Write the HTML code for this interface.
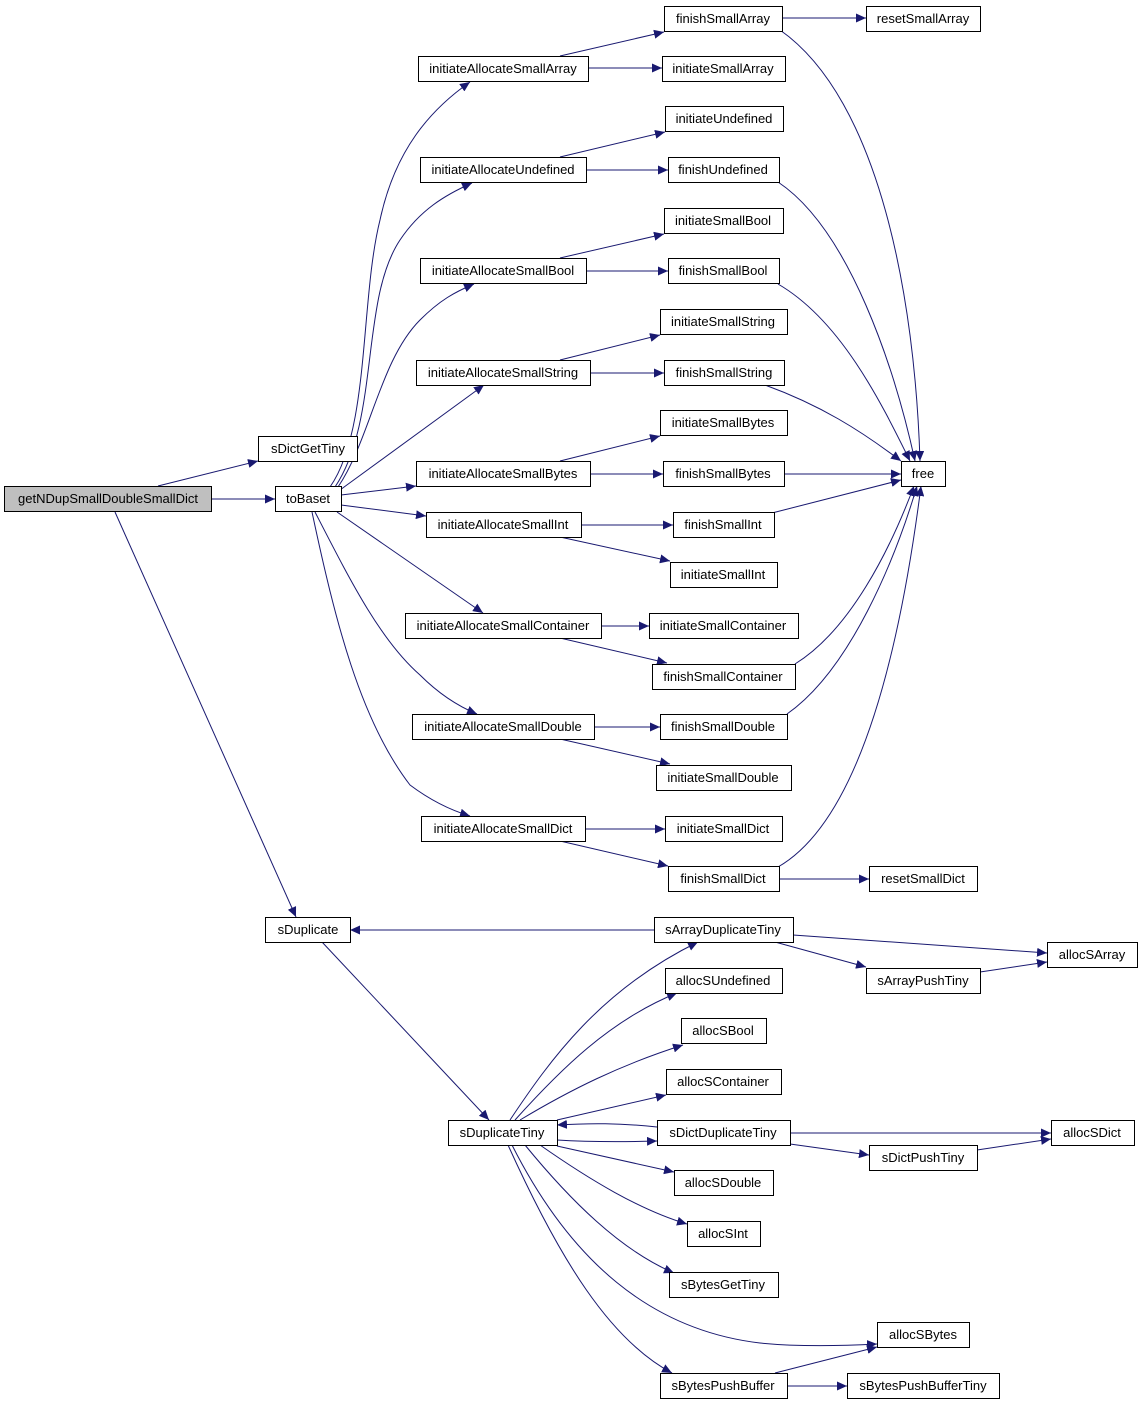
<!DOCTYPE html>
<html><head><meta charset="utf-8"><style>
html,body{margin:0;padding:0;background:#fff;}
svg{display:block;}
text{font-family:"Liberation Sans",Helvetica,sans-serif;font-size:13px;fill:#000;}
</style></head><body>
<svg width="1143" height="1405" viewBox="0 0 1143 1405" xmlns="http://www.w3.org/2000/svg">
<defs><marker id="a" markerUnits="userSpaceOnUse" markerWidth="11" markerHeight="9" refX="10" refY="4.5" orient="auto"><path d="M0,0 L10,4.5 L0,9 z" fill="#191970"/></marker></defs>
<g fill="none" stroke="#191970" stroke-width="1" marker-end="url(#a)">
<path d="M158,486 L258,461"/>
<path d="M211,499 L275,499"/>
<path d="M115,512 L296,917"/>
<path d="M330,487 C370,430 360,300 380,220 C395,150 430,110 470,82"/>
<path d="M335,487 C380,420 360,300 400,240 C420,210 445,195 472,183"/>
<path d="M338,487 C370,440 380,360 420,320 C440,300 455,292 474,284"/>
<path d="M340,490 L484,385"/>
<path d="M341,495 L416,486"/>
<path d="M341,505 L426,516"/>
<path d="M337,512 L483,613"/>
<path d="M315,512 C350,580 380,640 420,675 C440,695 460,707 477,714"/>
<path d="M312,512 C335,620 360,720 410,785 C430,800 450,810 470,816"/>
<path d="M560,56 L664,32"/><path d="M588,68 L662,68"/>
<path d="M560,157 L665,132"/><path d="M586,170 L668,170"/>
<path d="M560,258 L664,234"/><path d="M586,271 L668,271"/>
<path d="M560,360 L660,335"/><path d="M590,373 L664,373"/>
<path d="M560,461 L660,436"/><path d="M590,474 L663,474"/>
<path d="M581,525 L673,525"/><path d="M560,537 L670,561"/>
<path d="M601,626 L649,626"/><path d="M560,638 L667,663"/>
<path d="M594,727 L660,727"/><path d="M560,739 L670,764"/>
<path d="M585,829 L665,829"/><path d="M560,841 L668,866"/>
<path d="M782,18 L866,18"/>
<path d="M780,30 C880,100 915,300 920,461"/>
<path d="M778,182 C850,230 895,370 915,461"/>
<path d="M778,284 C840,320 880,400 910,461"/>
<path d="M765,385 C820,405 860,430 901,461"/>
<path d="M784,474 L901,474"/>
<path d="M772,513 L901,480"/>
<path d="M795,664 C850,630 890,550 914,486"/>
<path d="M787,714 C850,670 895,560 917,486"/>
<path d="M778,867 C860,820 900,650 921,486"/>
<path d="M779,879 L869,879"/>
<path d="M654,930 L350,930"/>
<path d="M793,935 L1047,953"/>
<path d="M775,942 L866,967"/>
<path d="M980,972 L1047,962"/>
<path d="M322,942 L489,1120"/>
<path d="M510,1120 C550,1060 600,990 698,942"/>
<path d="M515,1120 C560,1070 610,1020 677,993"/>
<path d="M520,1120 C570,1090 620,1065 683,1045"/>
<path d="M557,1120 L666,1095"/>
<path d="M557,1140 C590,1142 620,1142 657,1141"/>
<path d="M657,1127 C620,1123 590,1123 557,1125"/>
<path d="M557,1146 L674,1172"/>
<path d="M540,1145 C590,1180 640,1210 687,1224"/>
<path d="M525,1145 C570,1200 620,1250 674,1273"/>
<path d="M512,1145 C570,1260 650,1330 760,1343 C800,1347 840,1346 877,1344"/>
<path d="M508,1145 C560,1260 610,1340 672,1373"/>
<path d="M775,1373 L877,1347"/>
<path d="M787,1386 L847,1386"/>
<path d="M790,1133 L1051,1133"/>
<path d="M790,1144 L869,1155"/>
<path d="M977,1150 L1051,1139"/>
</g>
<g stroke="#000" stroke-width="1">
<rect x="4.5" y="486.5" width="207" height="25" fill="#bfbfbf"/>
<g fill="#fff">
<rect x="258.5" y="436.5" width="99" height="25"/>
<rect x="275.5" y="486.5" width="66" height="25"/>
<rect x="265.5" y="917.5" width="85" height="25"/>
<rect x="418.5" y="56.5" width="170" height="25"/>
<rect x="420.5" y="157.5" width="166" height="25"/>
<rect x="420.5" y="258.5" width="166" height="25"/>
<rect x="416.5" y="360.5" width="174" height="25"/>
<rect x="416.5" y="461.5" width="174" height="25"/>
<rect x="426.5" y="512.5" width="155" height="25"/>
<rect x="405.5" y="613.5" width="196" height="25"/>
<rect x="412.5" y="714.5" width="182" height="25"/>
<rect x="421.5" y="816.5" width="164" height="25"/>
<rect x="664.5" y="6.5" width="118" height="25"/>
<rect x="866.5" y="6.5" width="114" height="25"/>
<rect x="662.5" y="56.5" width="123" height="25"/>
<rect x="665.5" y="106.5" width="118" height="25"/>
<rect x="668.5" y="157.5" width="111" height="25"/>
<rect x="664.5" y="208.5" width="119" height="25"/>
<rect x="668.5" y="258.5" width="111" height="25"/>
<rect x="660.5" y="309.5" width="127" height="25"/>
<rect x="664.5" y="360.5" width="120" height="25"/>
<rect x="660.5" y="410.5" width="127" height="25"/>
<rect x="663.5" y="461.5" width="121" height="25"/>
<rect x="901.5" y="461.5" width="44" height="25"/>
<rect x="673.5" y="512.5" width="101" height="25"/>
<rect x="670.5" y="562.5" width="107" height="25"/>
<rect x="649.5" y="613.5" width="149" height="25"/>
<rect x="652.5" y="664.5" width="143" height="25"/>
<rect x="660.5" y="714.5" width="127" height="25"/>
<rect x="656.5" y="765.5" width="135" height="25"/>
<rect x="665.5" y="816.5" width="117" height="25"/>
<rect x="668.5" y="866.5" width="111" height="25"/>
<rect x="869.5" y="866.5" width="108" height="25"/>
<rect x="654.5" y="917.5" width="139" height="25"/>
<rect x="1047.5" y="942.5" width="90" height="25"/>
<rect x="866.5" y="968.5" width="114" height="25"/>
<rect x="665.5" y="968.5" width="117" height="25"/>
<rect x="681.5" y="1018.5" width="85" height="25"/>
<rect x="666.5" y="1069.5" width="115" height="25"/>
<rect x="448.5" y="1120.5" width="109" height="25"/>
<rect x="657.5" y="1120.5" width="133" height="25"/>
<rect x="1051.5" y="1120.5" width="83" height="25"/>
<rect x="869.5" y="1145.5" width="108" height="25"/>
<rect x="674.5" y="1170.5" width="99" height="25"/>
<rect x="687.5" y="1221.5" width="73" height="25"/>
<rect x="669.5" y="1272.5" width="109" height="25"/>
<rect x="877.5" y="1322.5" width="92" height="25"/>
<rect x="660.5" y="1373.5" width="127" height="25"/>
<rect x="847.5" y="1373.5" width="152" height="25"/>
</g></g>
<g text-anchor="middle">
<text x="108" y="503">getNDupSmallDoubleSmallDict</text>
<text x="308" y="453">sDictGetTiny</text>
<text x="308" y="503">toBaset</text>
<text x="308" y="934">sDuplicate</text>
<text x="503" y="73">initiateAllocateSmallArray</text>
<text x="503" y="174">initiateAllocateUndefined</text>
<text x="503" y="275">initiateAllocateSmallBool</text>
<text x="503" y="377">initiateAllocateSmallString</text>
<text x="503" y="478">initiateAllocateSmallBytes</text>
<text x="503" y="529">initiateAllocateSmallInt</text>
<text x="503" y="630">initiateAllocateSmallContainer</text>
<text x="503" y="731">initiateAllocateSmallDouble</text>
<text x="503" y="833">initiateAllocateSmallDict</text>
<text x="723" y="23">finishSmallArray</text>
<text x="923" y="23">resetSmallArray</text>
<text x="723" y="73">initiateSmallArray</text>
<text x="724" y="123">initiateUndefined</text>
<text x="723" y="174">finishUndefined</text>
<text x="723" y="225">initiateSmallBool</text>
<text x="723" y="275">finishSmallBool</text>
<text x="723" y="326">initiateSmallString</text>
<text x="724" y="377">finishSmallString</text>
<text x="723" y="427">initiateSmallBytes</text>
<text x="723" y="478">finishSmallBytes</text>
<text x="923" y="478">free</text>
<text x="723" y="529">finishSmallInt</text>
<text x="723" y="579">initiateSmallInt</text>
<text x="723" y="630">initiateSmallContainer</text>
<text x="723" y="681">finishSmallContainer</text>
<text x="723" y="731">finishSmallDouble</text>
<text x="723" y="782">initiateSmallDouble</text>
<text x="723" y="833">initiateSmallDict</text>
<text x="723" y="883">finishSmallDict</text>
<text x="923" y="883">resetSmallDict</text>
<text x="723" y="934">sArrayDuplicateTiny</text>
<text x="1092" y="959">allocSArray</text>
<text x="923" y="985">sArrayPushTiny</text>
<text x="723" y="985">allocSUndefined</text>
<text x="723" y="1035">allocSBool</text>
<text x="723" y="1086">allocSContainer</text>
<text x="502" y="1137">sDuplicateTiny</text>
<text x="723" y="1137">sDictDuplicateTiny</text>
<text x="1092" y="1137">allocSDict</text>
<text x="923" y="1162">sDictPushTiny</text>
<text x="723" y="1187">allocSDouble</text>
<text x="723" y="1238">allocSInt</text>
<text x="723" y="1289">sBytesGetTiny</text>
<text x="923" y="1339">allocSBytes</text>
<text x="723" y="1390">sBytesPushBuffer</text>
<text x="923" y="1390">sBytesPushBufferTiny</text>
</g>
</svg>
</body></html>
